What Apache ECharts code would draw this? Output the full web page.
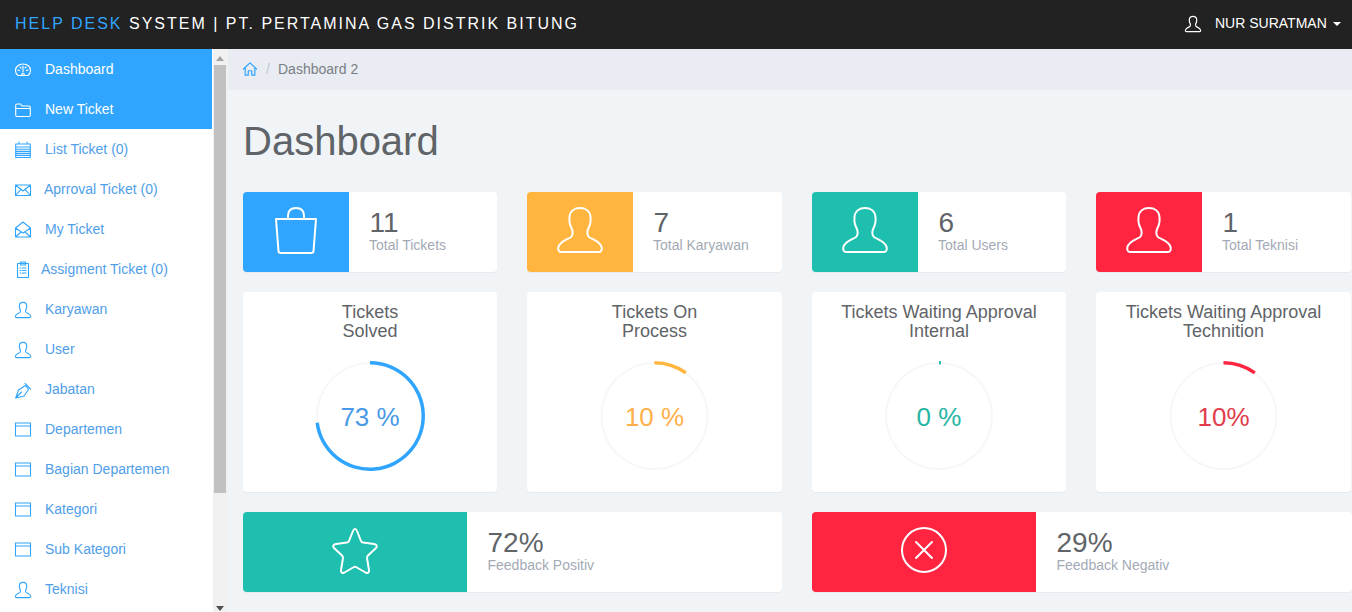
<!DOCTYPE html>
<html><head><meta charset="utf-8">
<script src="https://cdn.jsdelivr.net/npm/echarts@6/dist/echarts.min.js"></script>
<style>
html,body{margin:0;padding:0;background:#f1f4f7;overflow:hidden}
#chart{position:absolute;left:0;top:0;width:1352px;height:612px}
#brand{position:absolute;left:15px;top:13px;z-index:5;font:16px/21px "Liberation Sans",Arial,sans-serif;letter-spacing:2px;color:#fff;white-space:nowrap}
#brand span{color:#30a5ff}
</style></head><body>
<div id="chart"></div>
<div id="brand"><span>HELP DESK</span> SYSTEM | PT. PERTAMINA GAS DISTRIK BITUNG</div>
<script>
// ---------- values ----------
const sidebarLabels = ['Dashboard','New Ticket','List Ticket (0)','Aprroval Ticket (0)','My Ticket','Assigment Ticket (0)','Karyawan','User','Jabatan','Departemen','Bagian Departemen','Kategori','Sub Kategori','Teknisi'];
const sidebarIcons  = ['dash','folder','list','mail','mailOpen','clip','user','user','pen','win','win','win','win','user'];
const statValues = ['11','7','6','1'];
const statLabels = ['Total Tickets','Total Karyawan','Total Users','Total Teknisi'];
const gaugeTitles = [['Tickets','Solved'],['Tickets On','Process'],['Tickets Waiting Approval','Internal'],['Tickets Waiting Approval','Technition']];
const gaugeValues = [73,10,0,10];
const gaugeTexts  = ['73 %','10 %','0 %','10%'];
const feedbackValues = ['72%','29%'];
const feedbackLabels = ['Feedback Positiv','Feedback Negativ'];

// ---------- styling and layout ----------
const BLUE='#30a5ff',ORANGE='#ffb53e',TEAL='#1ebfae',RED='#ff2540';
const gaugeColors=[BLUE,ORANGE,TEAL,RED];
const gaugeTextColors=['#4a9ae8','#ffb04a','#27b5a4','#e23c4c'];
const statColors=[BLUE,ORANGE,TEAL,RED];
const statIcons=['bag','user','user','user'];
const colX=[243,527,812,1096], colW=[254,255,254,255];
const FONT='"Liberation Sans",Arial,sans-serif';
const DARK='#5f6468', MUTED='#a3aab5';
const ICONS={
 dash:'M3 13.5C1 12 .5 10 .5 8.5C.5 4.5 3.8 2 8 2C12.2 2 15.5 4.5 15.5 8.5C15.5 10 15 12 13 13.5ZM8 10L8 4M3 8L4.5 8.5M13 8L11.5 8.5M5 5L6 6M11 5L10 6M6.5 13.5C6.5 11 9.5 11 9.5 13.5',
 folder:'M.7 4C.7 3 1.2 2.5 2 2.5H5.5L7 4.5H14C14.8 4.5 15.3 5 15.3 6V13.5C15.3 14.5 14.8 15 14 15H2C1.2 15 .7 14.5 .7 13.5ZM.7 7H15.3',
 list:'M.7 3H15.3V16.500H.7ZM.7 6H15.3M.7 8.200H15.3M.7 10.400H15.3M.7 12.400H15.3M.7 14.400H15.3M4 1V3M12 1V3',
 mail:'M.5 3.5H15.5V14H.5ZM.5 3.5L8 9.5L15.5 3.5M.5 14L6 7.8M15.5 14L10 7.8',
 mailOpen:'M.5 7L8 1L15.5 7V16H.5ZM.5 7L8 12L15.5 7M.5 16L6 11M15.5 16L10 11',
 clip:'M2.500 3.500H13.500V17.500H2.500ZM5.500 2H10.500V5H5.500ZM5 8H6M7.500 8H11M5 10.500H6M7.500 10.500H11M5 13H6M7.500 13H11',
 pen:'M.7 15.5L3.5 7.5L10.5 3L13.5 7L9 13.5ZM.7 15.5L6.5 9.5M10 .8L15.5 6.5',
 win:'M.5 2H15.5V15H.5ZM.5 5H15.5',
 home:'M.5 8L8 1L15.5 8M2.5 6.5V15H6V10H10V15H13.5V6.5',
 user:'M23 1C17.500 1 13 4 12.500 10C12.500 13 12 15 13 17C13.500 20 15 21 15.500 24C16 27 15.500 29 13.500 30.500C9 33 2 35 1.200 41C1 44 2.500 45 4.500 45H41.500C43.500 45 45 44 44.800 41C44 35 37 33 32.500 30.500C30.500 29 30 27 30.500 24C31 21 32.500 20 33 17C34 15 33.500 13 33.500 10C33 4 28.500 1 23 1Z',
 bag:'M1 12H41L38.5 44Q38.5 46 36 46H6Q3.5 46 3.5 44ZM13 12V9C13 3 16 1 21 1C26 1 29 3 29 9V12',
 star:'M23 2C24 2 24.5 2.5 25 4L29 14C29.5 15 30 15.5 31 15.5L42 17C45 17.5 45.5 19.5 44 21L36 28.5C35 29.5 35 30 35 31L37 43C37.5 45.5 35.5 46.5 33.5 45.5L24 40C23 39.5 23 39.5 22 40L12.5 45.5C10.5 46.5 8.5 45.5 9 43L11 31C11 30 11 29.5 10 28.5L2 21C.5 19.5 1 17.5 4 17L15 15.5C16 15.5 16.5 15 17 14L21 4C21.5 2.5 22 2 23 2Z',
 xcircle:'M1 23A22 22 0 1 1 45 23A22 22 0 1 1 1 23ZM15 15L31 31M31 15L15 31'
};
const iconDy={dash:2,folder:1.5,list:1,mail:1.5,mailOpen:1,clip:0,user:2,pen:2.5,win:1};
Object.keys(ICONS).forEach(k=>echarts.graphic.registerShape('ic_'+k,echarts.graphic.extendPath(ICONS[k])));
const g=[];
function rect(x,y,w,h,fill,r){g.push({type:'rect',silent:true,shape:{x,y,width:w,height:h,r:r||0},style:{fill}});}
function text(t,x,y,size,fill,align){g.push({type:'text',silent:true,x,y,style:{text:t,fontSize:size,fontFamily:FONT,fill,textAlign:align||'left',textVerticalAlign:'middle'}});}
function icon(name,x,y,box,size,color,lw){const s=size/box;g.push({type:'ic_'+name,silent:true,x,y,scaleX:s,scaleY:s,style:{fill:'none',stroke:color,lineWidth:lw/s,lineJoin:'round',lineCap:'round'}});}
function card(x,y,w,h){rect(x,y+1,w,h,'#e6e9ed',4);rect(x,y,w,h,'#fff',4);}

// page chrome
rect(0,0,1352,49,'#222');
icon('user',1185,16,46,16,'#fff',1.2);
text('NUR SURATMAN',1215,23,14,'#fff');
g.push({type:'polygon',silent:true,shape:{points:[[1333,22],[1341,22],[1337,26]]},style:{fill:'#fff'}});
rect(0,49,213,563,'#fff');
rect(0,49,212,80,BLUE);
rect(213,49,15,563,'#f1f1f1');
rect(214,65,12,428,'#c1c1c1');
g.push({type:'polygon',silent:true,shape:{points:[[216,61],[224,61],[220,56]]},style:{fill:'#a3a3a3'}});
g.push({type:'polygon',silent:true,shape:{points:[[216,606],[224,606],[220,611]]},style:{fill:'#505050'}});
rect(228,49,1124,41,'#e9ecf2');
icon('home',243,62,16,14,BLUE,1.2);
text('/',266,69,14,'#c4c8ce');
text('Dashboard 2',278,69,14,'#7a7f85');
text('Dashboard',243,141,40,DARK);

// sidebar
const sidebarTextX=[45,45,45,44,45,41,45,45,45,45,45,45,45,45];
sidebarLabels.forEach((t,i)=>{
  const cy=69+i*40, active=i<2, color=active?'#fff':BLUE, txt=active?'#fff':'#4f9ee9', ic=sidebarIcons[i];
  icon(ic,15,cy-9+iconDy[ic],ic==='user'?46:16,16,color,1.1);
  text(t,sidebarTextX[i],cy,14,txt);
});

// stat cards
statValues.forEach((v,i)=>{
  const x=colX[i];
  card(x,192,colW[i],80);
  g.push({type:'rect',silent:true,shape:{x,y:192,width:106,height:80,r:[4,0,0,4]},style:{fill:statColors[i]}});
  if(statIcons[i]==='bag') icon('bag',x+32,207,46,46,'#fff',2);
  else icon('user',x+30,207,46,46,'#fff',2);
  text(v,x+126.5,222,28,DARK);
  text(statLabels[i],x+126,245,14,MUTED);
});

// gauge cards
gaugeTitles.forEach((lines,i)=>{
  const x=colX[i];
  card(x,292,colW[i],200);
  lines.forEach((l,j)=>text(l,x+colW[i]/2,312+j*19,18,DARK,'center'));
});

// feedback cards
[[243,539,224,TEAL,'star',332],[812,540,224,RED,'xcircle',901]].forEach((c,i)=>{
  card(c[0],512,c[1],80);
  g.push({type:'rect',silent:true,shape:{x:c[0],y:512,width:c[2],height:80,r:[4,0,0,4]},style:{fill:c[3]}});
  icon(c[4],c[5],527,46,46,'#fff',2);
  text(feedbackValues[i],c[0]+244.5,542,28,DARK);
  text(feedbackLabels[i],c[0]+244.5,565,14,MUTED);
});

// gauges: one thin track ring and one progress ring per card
const series=[];
const centersX=colX.map((x,i)=>x+colW[i]/2);
gaugeValues.forEach((v,i)=>{
  const center=[centersX[i],416];
  series.push({type:'pie',silent:true,animation:false,z:5,center,radius:[52,54],startAngle:90,label:{show:false},labelLine:{show:false},
    data:[{value:100,itemStyle:{color:'#f6f7f9'}}]});
  series.push({type:'pie',silent:true,animation:false,z:6,center,radius:[51.5,55],startAngle:90,clockwise:true,minAngle:2,label:{show:false},labelLine:{show:false},
    data:[{value:v,itemStyle:{color:gaugeColors[i]}},{value:100-v,itemStyle:{color:'rgba(0,0,0,0)'}}]});
  g.push({type:'text',silent:true,z:10,x:center[0],y:417,style:{text:gaugeTexts[i],fontSize:26,fontFamily:FONT,fill:gaugeTextColors[i],textAlign:'center',textVerticalAlign:'middle'}});
});

const chart=echarts.init(document.getElementById('chart'),null,{renderer:'svg',width:1352,height:612});
chart.setOption({animation:false,backgroundColor:'transparent',tooltip:{show:false},series,graphic:{elements:g}});
</script>
</body></html>
